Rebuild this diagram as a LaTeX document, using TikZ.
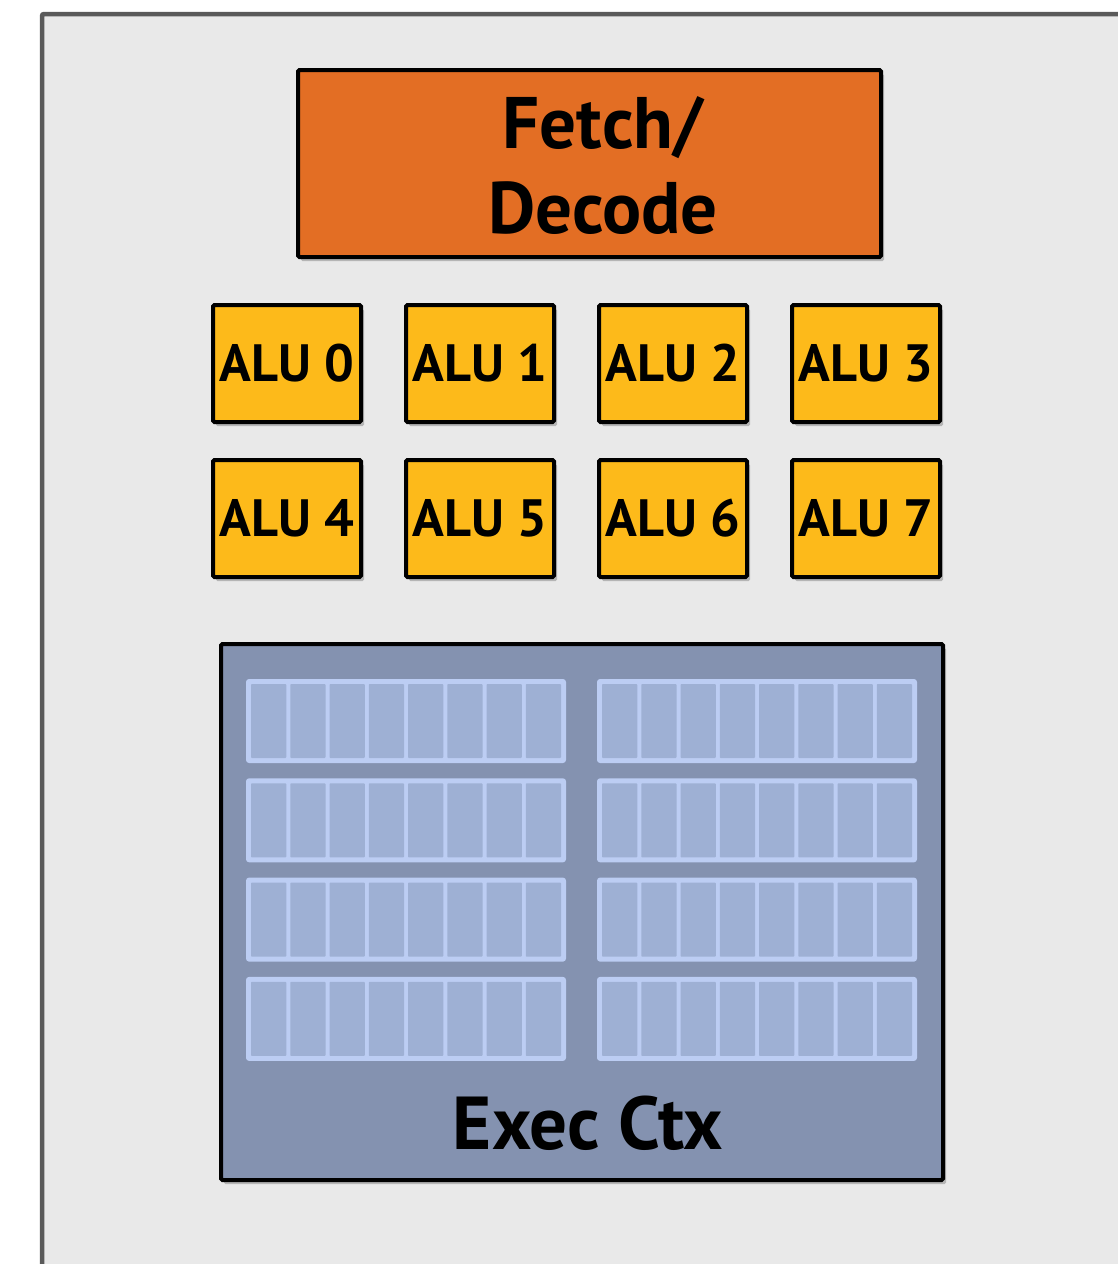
\documentclass[tikz,border=0pt]{standalone}
\usepackage{fontspec}
\setsansfont{PT Sans}
\usepackage{tikz}
\usetikzlibrary{positioning, calc, shadows}
\definecolor{coreGray}{HTML}{E9E9E9}
\definecolor{coreEdge}{HTML}{5A5A5A}
\definecolor{fetchOrange}{HTML}{E36E24}
\definecolor{aluYellow}{HTML}{FDBA1A}
\definecolor{ctxBlue}{HTML}{8492B0}
\definecolor{bankLight}{HTML}{BCCDF3}
\definecolor{cellBlue}{HTML}{9EB0D4}

\begin{document}
\begin{tikzpicture}[
        x=1pt, y=-1pt,
        font=\sffamily\bfseries,
        shadowed/.style={drop shadow={shadow xshift=3pt, shadow yshift=-4pt, opacity=0.22, fill=black}},
        fetchbox/.style={rectangle, draw=black, fill=fetchOrange, line width=4pt, rounded corners=1.5pt, minimum width=583pt, minimum height=187pt, inner sep=0pt, shadowed},
        alubox/.style={rectangle, draw=black, fill=aluYellow, line width=4pt, rounded corners=1.5pt, minimum width=148pt, minimum height=117pt, inner sep=0pt, shadowed, font=\sffamily\bfseries\fontsize{52.5}{60}\selectfont},
        ctxbox/.style={rectangle, draw=black, fill=ctxBlue, line width=4pt, rounded corners=1.5pt, minimum width=722pt, minimum height=536pt, inner sep=0pt, shadowed},
        bankbox/.style={rectangle, fill=bankLight, rounded corners=3pt, minimum width=320pt, minimum height=84pt, inner sep=0pt, outer sep=0pt},
        cellfill/.style={fill=cellBlue, rounded corners=0.8pt}
    ]
        \clip (0,0) rectangle (1118,1264);
        \fill[white] (0,0) rectangle (1118,1264);
        % core outline
        \draw[coreEdge, fill=coreGray, line width=4.5pt, rounded corners=2pt] (42,14) rectangle (1160,1300);

        % Fetch / decode
        \node[fetchbox] (fetch) at (589.5,163.5) {};
        \node[align=center, font=\sffamily\bfseries\fontsize{73}{85}\selectfont] (fetchlabel) at (603,166) {Fetch/\\Decode};

        % ALUs, row 1
        \node[alubox] (alu0) at (287,363.5) {ALU 0};
        \node[alubox, right=41pt of alu0] (alu1) {ALU 1};
        \node[alubox, right=41pt of alu1] (alu2) {ALU 2};
        \node[alubox, right=41pt of alu2] (alu3) {ALU 3};

        % ALUs, row 2
        \node[alubox, below=34pt of alu0] (alu4) {ALU 4};
        \node[alubox, right=41pt of alu4] (alu5) {ALU 5};
        \node[alubox, right=41pt of alu5] (alu6) {ALU 6};
        \node[alubox, right=41pt of alu6] (alu7) {ALU 7};

        % Execution context
        \node[ctxbox] (ctx) at (582,912) {};
        \node[font=\sffamily\bfseries\fontsize{75}{78}\selectfont] (ctxlabel) at (588,1123) {Exec Ctx};

        \foreach \r in {0,...,3}{
            \foreach \c/\bx in {0/406,1/757}{
                \node[bankbox] (bank\r\c) at (\bx,721+\r*99.3) {};
                \foreach \k in {0,...,7}
                    \path[cellfill] ($(bank\r\c.north west)+(5+\k*39.25,5)$) rectangle ++(35.25,74);
            }
        }
    \end{tikzpicture}
\end{document}
